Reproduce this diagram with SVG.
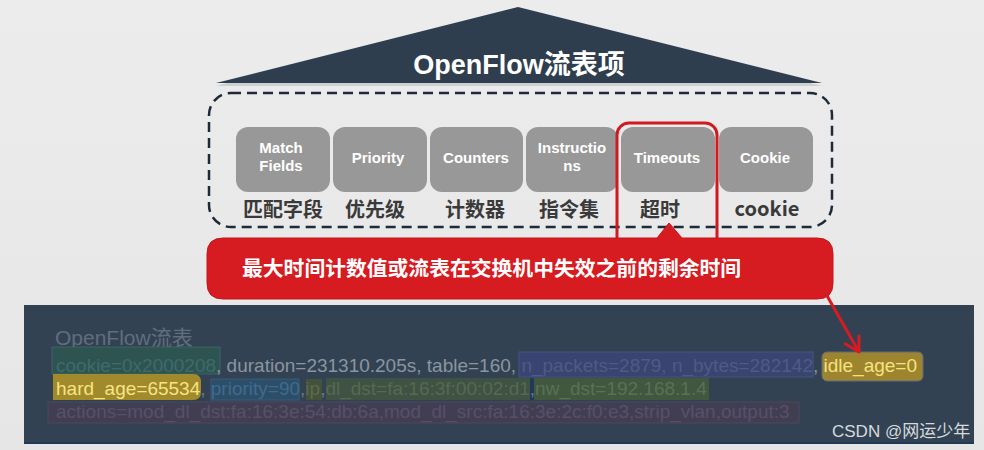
<svg xmlns="http://www.w3.org/2000/svg" width="984" height="450" viewBox="0 0 984 450">
<defs>
<linearGradient id="bg" x1="0" y1="0" x2="0" y2="1">
<stop offset="0" stop-color="#ececec"/>
<stop offset="1" stop-color="#e6e6e6"/>
</linearGradient>
<marker id="ah" markerUnits="userSpaceOnUse" markerWidth="20" markerHeight="20" viewBox="0 0 20 20" refX="18" refY="10" orient="auto">
<path d="M4,2 L18,10 L4,18" fill="none" stroke="#d91a20" stroke-width="3" stroke-linecap="round" stroke-linejoin="round"/>
</marker>
</defs>
<style>
.box{fill:#989898;}
.bl{font-family:"Liberation Sans",Arial,sans-serif;font-weight:bold;font-size:15px;fill:#ffffff;text-anchor:middle;}
.cn{font-family:"Noto Sans CJK SC","Noto Sans",sans-serif;font-weight:bold;font-size:20px;fill:#3a3a3a;text-anchor:middle;}
.mono{font-family:"Liberation Sans",Arial,sans-serif;font-size:19px;}
.g{fill:#8a95a0;}
</style>
<rect x="0" y="0" width="984" height="450" fill="url(#bg)"/>

<g id="roof">
<polygon points="216,84 822,84 518,7" fill="#b9bcc0" opacity="0.6" transform="translate(0,2)"/>
<polygon points="216,83 822,83 518,7" fill="#2f3e4f"/>
<text x="519" y="74" text-anchor="middle" font-family="'Liberation Sans','Noto Sans CJK SC',sans-serif" font-weight="bold" font-size="27" fill="#ffffff">OpenFlow流表项</text>
</g>

<g id="container">
<rect x="209" y="93" width="623" height="134" rx="22" fill="none" stroke="#1e2a38" stroke-width="2.5" stroke-dasharray="10 6"/>
</g>

<g id="match-fields">
<rect class="box" x="236" y="127" width="94" height="65" rx="12"/>
<text class="bl" x="281" y="153">Match</text>
<text class="bl" x="281" y="171">Fields</text>
<text class="cn" x="283" y="217">匹配字段</text>
</g>
<g id="priority">
<rect class="box" x="333" y="127" width="94" height="65" rx="12"/>
<text class="bl" x="378" y="163">Priority</text>
<text class="cn" x="375" y="217">优先级</text>
</g>
<g id="counters">
<rect class="box" x="430" y="127" width="93" height="65" rx="12"/>
<text class="bl" x="476" y="163">Counters</text>
<text class="cn" x="475" y="217">计数器</text>
</g>
<g id="instructions">
<rect class="box" x="526" y="127" width="92" height="65" rx="12"/>
<text class="bl" x="572" y="153">Instructio</text>
<text class="bl" x="572" y="171">ns</text>
<text class="cn" x="569" y="217">指令集</text>
</g>
<g id="timeouts">
<rect class="box" x="621" y="127" width="94" height="65" rx="12"/>
<text class="bl" x="667" y="163">Timeouts</text>
<text class="cn" x="660" y="217">超时</text>
<rect x="617" y="123" width="100" height="135" rx="12" fill="none" stroke="#d01a20" stroke-width="3"/>
</g>
<g id="cookie">
<rect class="box" x="719" y="127" width="94" height="65" rx="12"/>
<text class="bl" x="765" y="163">Cookie</text>
<text class="cn" x="767" y="216">cookie</text>
</g>

<g id="callout">
<path d="M223,238 L657,238 L669,223 L682,238 L817,238 Q833,238 833,254 L833,283 Q833,299 817,299 L223,299 Q207,299 207,283 L207,254 Q207,238 223,238 Z" fill="#d61b21" stroke="#c4161c" stroke-width="1"/>
<text x="242" y="276" font-family="'Noto Sans CJK SC',sans-serif" font-weight="bold" font-size="20.8" fill="#ffffff">最大时间计数值或流表在交换机中失效之前的剩余时间</text>
</g>

<g id="panel">
<rect x="24" y="305" width="950" height="139" fill="#334253"/>
<rect x="24" y="442" width="950" height="2" fill="#1d3a57"/>
<text x="55" y="345" font-family="'Liberation Sans','Noto Sans CJK SC',sans-serif" font-size="21" fill="#5f6e7e">OpenFlow流表</text>

<rect x="52" y="347" width="168" height="27" fill="#2e5452" stroke="#3f6264" stroke-width="1"/>
<rect x="519" y="352" width="294" height="25" fill="#394470" stroke="#4a5381" stroke-width="1"/>
<rect x="822" y="352" width="101" height="29" rx="5" fill="#9d8530" stroke="#5e6a78" stroke-width="1"/>
<text class="mono" x="56" y="372"><tspan fill="#3e6b6a">cookie=0x2000208</tspan><tspan class="g">, duration=231310.205s, table=160, </tspan><tspan fill="#4f5b85">n_packets=2879, n_bytes=282142</tspan><tspan class="g">, </tspan><tspan fill="#f6e27c">idle_age=0</tspan></text>

<path d="M53,374 L193,374 Q201,374 201,382 L201,392 Q201,400 193,400 L53,400 Z" fill="#a08a2c"/>
<rect x="211" y="379" width="88" height="21" fill="#2d4e69" stroke="#3a5a78" stroke-width="1"/>
<rect x="306" y="379" width="16" height="21" fill="#44523c"/>
<rect x="326" y="378" width="204" height="22" fill="#3f5244"/>
<rect x="530" y="378" width="4" height="22" fill="#20385a"/>
<rect x="534" y="378" width="175" height="22" fill="#42573f"/>
<text class="mono" x="56" y="395"><tspan fill="#f8e383">hard_age=65534</tspan><tspan fill="#6b7886">, </tspan><tspan fill="#3f6b8e">priority=90</tspan><tspan fill="#6b7886">,</tspan><tspan fill="#5c6a4a">ip</tspan><tspan fill="#6b7886">,</tspan><tspan fill="#57694f">dl_dst=fa:16:3f:00:02:d1</tspan><tspan fill="#6b7886">,</tspan><tspan fill="#5b7055">nw_dst=192.168.1.4</tspan></text>

<rect x="48" y="402" width="751" height="21" fill="#423e52" stroke="#4b4760" stroke-width="1"/>
<text class="mono" x="56" y="418" fill="#57506a">actions=mod_dl_dst:fa:16:3e:54:db:6a,mod_dl_src:fa:16:3e:2c:f0:e3,strip_vlan,output:3</text>

<text x="832" y="437" font-family="'Liberation Sans','Noto Sans CJK SC',sans-serif" font-size="17" fill="#d6dade">CSDN @网运少年</text>
</g>

<g id="connectors">
<line x1="826" y1="294" x2="859" y2="352" stroke="#d91a20" stroke-width="3" marker-end="url(#ah)"/>
</g>
</svg>
